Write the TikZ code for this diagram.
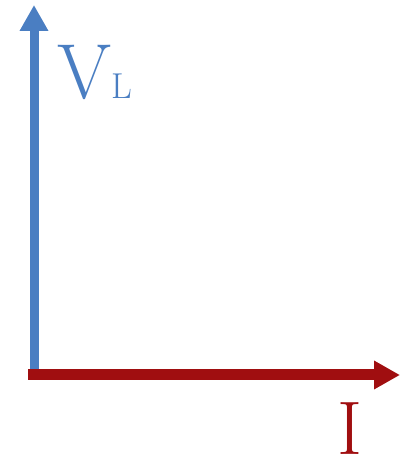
\documentclass[tikz,border=0pt]{standalone}
\usepackage{tikz}
\usetikzlibrary{arrows.meta,calc,positioning}

\definecolor{voltblue}{RGB}{74,126,194}
\definecolor{currred}{RGB}{160,14,16}

\begin{document}
\begin{tikzpicture}[
    x=1pt,
    y=1pt,
    every node/.style={inner sep=0pt},
    axisarrow/.style={line width=9pt, -{Triangle[length=26pt,width=27pt]}}
]

\useasboundingbox (0,0) rectangle (405,465);


% Axes
\coordinate (vbase) at (34,92);
\coordinate (vtip) at (34,460);
\coordinate (ibase) at (28,90);
\coordinate (itip) at (400,90);

\draw[axisarrow, voltblue] (vbase) -- (vtip);
\draw[axisarrow, currred, line width=11pt] (ibase) -- (itip);


% Labels
\node[anchor=base west, text=voltblue] (vl) at (57,366)
    {\fontsize{78}{78}\selectfont V\fontsize{36}{36}\selectfont L};
\node[anchor=base, text=currred] (il) at (350,10)
    {\fontsize{76}{76}\selectfont I};


\end{tikzpicture}
\end{document}
